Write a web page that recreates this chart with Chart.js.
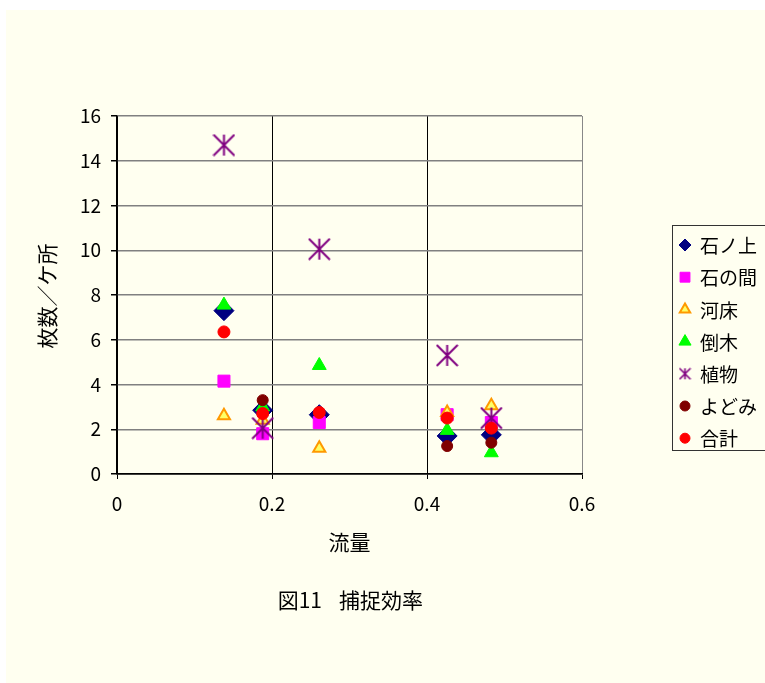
<!DOCTYPE html>
<html>
<head>
<meta charset="utf-8">
<script src="https://cdn.jsdelivr.net/npm/chart.js@4/dist/chart.umd.min.js"></script>
<style>
  html, body { margin: 0; padding: 0; background: #ffffff; }
  #wrap { width: 765px; height: 683px; }
</style>
</head>
<body>
<div id="wrap"><canvas id="fig11" width="765" height="683"></canvas></div>
<script>
// 流量 (x) shared by every series
var flow = [0.138, 0.188, 0.261, 0.426, 0.483];

var ishiUe    = [7.3, 2.85, 2.65, 1.7, 1.75];   // 石ノ上
var ishiAida  = [4.15, 1.8, 2.3, 2.65, 2.3];    // 石の間
var kashou    = [2.6, 2.4, 1.15, 2.75, 3.05];   // 河床
var touboku   = [7.55, 3.0, 4.85, 1.95, 0.95];  // 倒木
var shokubutsu = [14.7, 2.05, 10.05, 5.3, 2.5]; // 植物
var yodomi    = [null, 3.3, null, 1.25, 1.4];   // よどみ
var goukei    = [6.35, 2.7, 2.75, 2.5, 2.05];   // 合計

var seriesNames = ['石ノ上', '石の間', '河床', '倒木', '植物', 'よどみ', '合計'];
var xTicks = [0, 0.2, 0.4, 0.6];
var yTicks = [0, 2, 4, 6, 8, 10, 12, 14, 16];

var cream = '#FFFFF0';
var jpFont = '"Noto Sans CJK JP", "Noto Sans", sans-serif';

// asterisk marker (vertical + two diagonals), like the excel one
function makeStar(size, lw) {
    var c = document.createElement('canvas');
    c.width = size; c.height = size;
    var g = c.getContext('2d');
    var h = size / 2, r = h - 1;
    g.strokeStyle = '#800080';
    g.lineWidth = lw;
    g.beginPath();
    g.moveTo(h, h - r); g.lineTo(h, h + r);
    g.moveTo(h - r, h - r); g.lineTo(h + r, h + r);
    g.moveTo(h - r, h + r); g.lineTo(h + r, h - r);
    g.stroke();
    return c;
}
var starBig = makeStar(23, 2);
var starSmall = makeStar(13, 1.6);

function pts(vals) {
    var out = [];
    for (var i = 0; i < flow.length; i++) {
        if (vals[i] !== null) out.push({x: flow[i], y: vals[i]});
    }
    return out;
}

var styles = [
    {pointStyle: 'rectRot', radius: 10, bg: '#000080', border: '#000080', bw: 1, lr: 6},
    {pointStyle: 'rect', radius: 8.5, bg: '#FF00FF', border: '#FF00FF', bw: 1, lr: 7},
    {pointStyle: 'triangle', radius: 7, bg: '#FFFF66', border: '#FF9900', bw: 2, lr: 6},
    {pointStyle: 'triangle', radius: 8, bg: '#00FF00', border: '#00FF00', bw: 1, lr: 7},
    {pointStyle: starBig, radius: 11, bg: '#800080', border: '#800080', bw: 1, lr: 7, legendStyle: starSmall},
    {pointStyle: 'circle', radius: 5.5, bg: '#800000', border: '#800000', bw: 1, lr: 5},
    {pointStyle: 'circle', radius: 6, bg: '#FF0000', border: '#FF0000', bw: 1, lr: 5}
];
var allVals = [ishiUe, ishiAida, kashou, touboku, shokubutsu, yodomi, goukei];

var datasets = [];
for (var i = 0; i < seriesNames.length; i++) {
    var s = styles[i];
    datasets.push({
        label: seriesNames[i],
        data: pts(allVals[i]),
        pointStyle: s.pointStyle,
        pointRadius: s.radius,
        pointHoverRadius: s.radius,
        backgroundColor: s.bg,
        borderColor: s.border,
        borderWidth: s.bw,
        showLine: false,
        order: seriesNames.length - i   // later series drawn on top
    });
}

// page background + texts + legend box
var decor = {
    id: 'decor',
    beforeDraw: function(chart) {
        var c = chart.ctx;
        c.save();
        c.fillStyle = '#ffffff';
        c.fillRect(0, 0, chart.width, chart.height);
        c.fillStyle = cream;
        c.fillRect(6, 10, chart.width - 6, chart.height - 10);
        c.restore();
    },
    afterDraw: function(chart) {
        var c = chart.ctx;
        var a = chart.chartArea;
        c.save();
        c.fillStyle = '#000';
        c.font = '21px ' + jpFont;
        c.textAlign = 'center';
        c.textBaseline = 'middle';
        c.fillText('流量', (a.left + a.right) / 2, 542);

        // caption, two parts with the wide gap
        c.textAlign = 'right';
        c.fillText('図11', 322, 600);
        c.textAlign = 'left';
        c.fillText('捕捉効率', 339, 600);

        c.textAlign = 'center';
        c.save();
        c.translate(47, 296);
        c.rotate(-Math.PI / 2);
        c.fillText('枚数／ケ所', 0, 0);
        c.restore();

        // legend
        c.fillStyle = cream;
        c.fillRect(672, 225, 100, 225);
        c.strokeStyle = '#333';
        c.lineWidth = 1;
        c.strokeRect(672.5, 225.5, 100, 225);
        c.font = '19px ' + jpFont;
        c.textAlign = 'left';
        for (var i = 0; i < seriesNames.length; i++) {
            var y = 245 + i * 32.2;
            var s = styles[i];
            c.fillStyle = s.bg;
            c.strokeStyle = s.border;
            c.lineWidth = s.bw;
            Chart.helpers.drawPoint(c, {
                pointStyle: s.legendStyle || s.pointStyle,
                radius: s.lr,
                borderWidth: s.bw,
                rotation: 0
            }, 685, y);
            c.fillStyle = '#000';
            c.fillText(seriesNames[i], 700, y + 1);
        }
        c.restore();
    }
};

var ctx = document.getElementById('fig11').getContext('2d');
var graph = new Chart(ctx, {
    type: 'scatter',
    data: { datasets: datasets },
    options: {
        responsive: false,
        animation: false,
        events: [],
        layout: { padding: { left: 0, top: 116, right: 183, bottom: 159 } },
        plugins: {
            legend: { display: false },
            tooltip: { enabled: false }
        },
        scales: {
            x: {
                type: 'linear',
                min: 0, max: 0.6,
                afterFit: function(scale) { scale.height = 50; },
                afterBuildTicks: function(scale) {
                    scale.ticks = xTicks.map(function(v) { return {value: v}; });
                },
                border: { display: true, color: '#000', width: 1.5 },
                grid: {
                    color: function(c) { return c.tick && c.tick.value === 0.6 ? '#888' : '#000'; },
                    lineWidth: 1,
                    tickLength: 5,
                    tickColor: '#000'
                },
                ticks: {
                    color: '#000',
                    font: { family: jpFont, size: 19 },
                    padding: 13,
                    maxRotation: 0,
                    callback: function(v) { return String(+v.toFixed(1)); }
                }
            },
            y: {
                type: 'linear',
                min: 0, max: 16,
                afterFit: function(scale) { scale.width = 117; },
                afterBuildTicks: function(scale) {
                    scale.ticks = yTicks.map(function(v) { return {value: v}; });
                },
                border: { display: true, color: '#000', width: 1.5 },
                grid: {
                    color: function(c) { return c.tick && c.tick.value === 0 ? '#000' : '#808080'; },
                    lineWidth: 1.5,
                    tickLength: 6,
                    tickColor: '#000'
                },
                ticks: {
                    color: '#000',
                    font: { family: jpFont, size: 19 },
                    padding: 10
                }
            }
        }
    },
    plugins: [decor]
});
</script>
</body>
</html>
